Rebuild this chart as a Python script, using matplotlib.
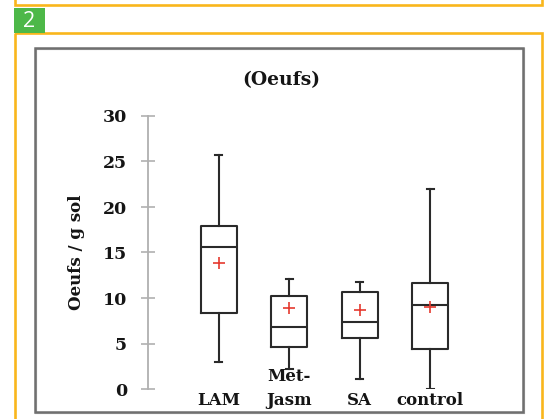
import matplotlib
matplotlib.use("Agg")
import matplotlib.pyplot as plt
from matplotlib.patches import Rectangle

# ---- data ----
categories = ["LAM", "Met-\nJasm", "SA", "control"]
whisker_low = [3.0, 2.2, 1.1, 0.0]
q1 = [8.4, 4.65, 5.6, 4.4]
median = [15.6, 6.8, 7.4, 9.2]
mean = [13.9, 8.9, 8.7, 9.0]
q3 = [17.9, 10.25, 10.7, 11.7]
whisker_high = [25.7, 12.1, 11.8, 22.0]
yticks = [0, 5, 10, 15, 20, 25, 30]
title = "(Oeufs)"
ylabel = "Oeufs / g sol"
panel_number = "2"

W, H = 547, 419
fig = plt.figure(figsize=(W / 100, H / 100), dpi=100)

# ---- decorations (pixel coordinates) ----
deco = fig.add_axes([0, 0, 1, 1], zorder=0)
deco.set_xlim(0, W)
deco.set_ylim(H, 0)
deco.axis("off")
orange = "#F9B61C"
green = "#4DB848"
textc = "#151515"
# previous panel bottom edge
deco.add_patch(Rectangle((14.5, -10), 527.5, 15, fill=False, ec=orange, lw=1.9))
# main panel frame
deco.add_patch(Rectangle((14.5, 33), 527.5, 400, fill=False, ec=orange, lw=1.9))
# green number tab
deco.add_patch(Rectangle((14, 8), 30.5, 25, fc=green, ec="none"))
deco.text(29.5, 21.5, panel_number, color="white", fontsize=15.5,
          family="Open Sans", ha="center", va="center")
# gray chart frame (with soft shadow)
deco.add_patch(Rectangle((35.8, 48.8), 488, 364, fill=False, ec="#c8c8c8", lw=1.6))
deco.add_patch(Rectangle((35, 48), 488, 364, fill=False, ec="#6f6f6f", lw=1.8))

# ---- chart axes ----
x_left, x_right = 148, 501
y_bot, y_top = 389, 116
ax = fig.add_axes([x_left / W, (H - y_bot) / H, (x_right - x_left) / W,
                   (y_bot - y_top) / H], zorder=1)
ax.patch.set_alpha(0)

positions = list(range(1, len(categories) + 1))
stats = []
for i in range(len(categories)):
    stats.append(dict(whislo=whisker_low[i], q1=q1[i], med=median[i],
                      mean=mean[i], q3=q3[i], whishi=whisker_high[i],
                      fliers=[], label=categories[i]))

boxc = "#2a2a2a"
ax.bxp(stats, positions=positions, widths=0.51, showmeans=True,
       showfliers=False, patch_artist=False,
       boxprops=dict(color=boxc, lw=1.5),
       medianprops=dict(color=boxc, lw=1.5),
       whiskerprops=dict(color=boxc, lw=1.5),
       capprops=dict(color=boxc, lw=1.5),
       capwidths=0.1,
       meanprops=dict(marker="+", markeredgecolor="#E5392F",
                      markerfacecolor="#E5392F", markersize=9,
                      markeredgewidth=1.2))

ax.set_xlim(0, 5)
ax.set_ylim(0, 30)
for s in ["top", "right", "bottom"]:
    ax.spines[s].set_visible(False)
ax.spines["left"].set_color("#b0b0b0")
ax.spines["left"].set_linewidth(1.3)
ax.spines["left"].set_bounds(0, 30)
ax.set_yticks(yticks)
ax.set_yticklabels([str(t) for t in yticks], fontsize=12.5,
                   fontweight="bold", family="DejaVu Serif", color=textc)
ax.tick_params(axis="y", direction="inout", length=9.4, width=1.2,
               color="#b0b0b0", pad=10.3)
ax.set_xticks([])

# category labels
for p, lab in zip(positions, categories):
    lines = lab.split("\n")
    if len(lines) == 1:
        ax.text(p, -1.75, lines[0], ha="center", va="baseline", fontsize=12,
                fontweight="bold", family="DejaVu Serif", color=textc,
                clip_on=False)
    else:
        ax.text(p, 0.9, lines[0], ha="center", va="baseline", fontsize=12,
                fontweight="bold", family="DejaVu Serif", color=textc,
                clip_on=False, zorder=0)
        ax.text(p, -1.75, lines[1], ha="center", va="baseline", fontsize=12,
                fontweight="bold", family="DejaVu Serif", color=textc,
                clip_on=False)

# title and y label in pixel coordinates
deco.text(281.5, 80, title, ha="center", va="center", fontsize=13.5,
          fontweight="bold", family="DejaVu Serif", color=textc)
deco.text(76.5, 252, ylabel, ha="center", va="center", rotation=90,
          fontsize=12, fontweight="bold", family="DejaVu Serif",
          color=textc)

fig.savefig("out.png", dpi=100)
